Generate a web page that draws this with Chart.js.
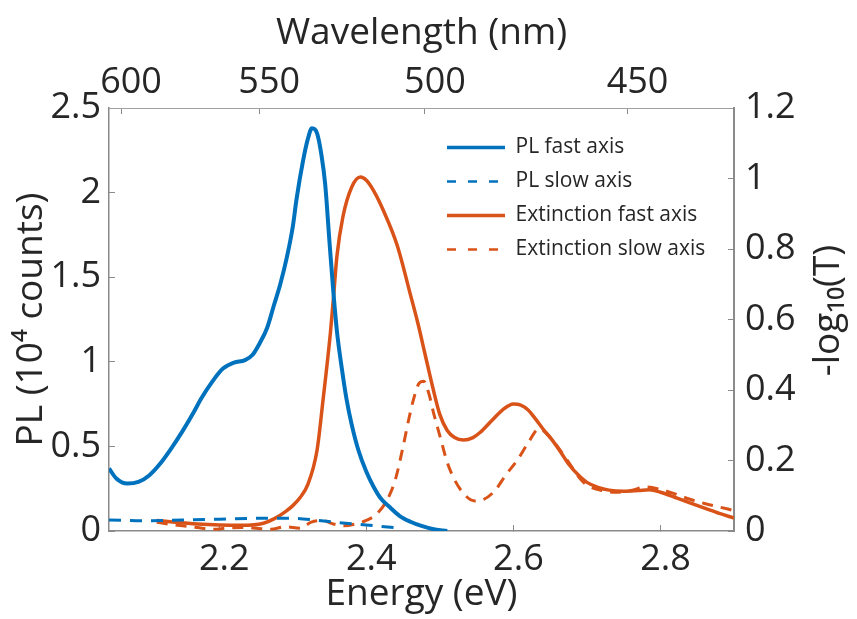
<!DOCTYPE html>
<html>
<head>
<meta charset="utf-8">
<script src="https://cdn.jsdelivr.net/npm/chart.js@4.4.0/dist/chart.umd.min.js"></script>
<style>
  body { margin: 0; background: #fff; }
  canvas { display: block; }
</style>
</head>
<body>
<canvas id="myChart" width="857" height="619"></canvas>
<script>
// tick labels
var energyTicks = [2.2, 2.4, 2.6, 2.8];
var wavelengthTicks = [600, 550, 500, 450];

// PL fast axis (10^4 counts)
var plFastE = [2.05, 2.06, 2.075, 2.09, 2.105, 2.12, 2.135, 2.15, 2.165, 2.175, 2.19, 2.205, 2.22, 2.235, 2.245, 2.255, 2.265, 2.274, 2.283, 2.292, 2.30, 2.305, 2.314, 2.32, 2.326, 2.333, 2.339, 2.344, 2.35, 2.355, 2.36, 2.367, 2.373, 2.38, 2.389, 2.40, 2.41, 2.42, 2.432, 2.445, 2.46, 2.475, 2.49, 2.51];
var plFastPL = [0.37, 0.31, 0.28, 0.29, 0.33, 0.40, 0.49, 0.59, 0.70, 0.78, 0.88, 0.96, 0.995, 1.01, 1.04, 1.11, 1.20, 1.33, 1.46, 1.62, 1.80, 1.96, 2.19, 2.31, 2.38, 2.35, 2.22, 2.05, 1.70, 1.42, 1.18, 0.95, 0.78, 0.63, 0.48, 0.35, 0.26, 0.19, 0.14, 0.09, 0.055, 0.03, 0.012, 0.0];

// PL slow axis
var plSlowE = [2.05, 2.10, 2.15, 2.20, 2.25, 2.30, 2.33, 2.36, 2.40, 2.44];
var plSlowPL = [0.065, 0.06, 0.065, 0.07, 0.075, 0.075, 0.065, 0.05, 0.035, 0.02];

// Extinction fast axis (-log10 T)
var extFastE = [2.115, 2.14, 2.17, 2.20, 2.23, 2.26, 2.275, 2.29, 2.30, 2.31, 2.32, 2.333, 2.341, 2.351, 2.355, 2.36, 2.368, 2.38, 2.392, 2.40, 2.41, 2.423, 2.442, 2.46, 2.47, 2.48, 2.49, 2.50, 2.51, 2.52, 2.532, 2.545, 2.555, 2.57, 2.585, 2.60, 2.61, 2.62, 2.63, 2.64, 2.652, 2.664, 2.675, 2.69, 2.70, 2.715, 2.73, 2.75, 2.77, 2.785, 2.80, 2.82, 2.84, 2.86, 2.88, 2.90];
var extFastOD = [0.03, 0.025, 0.02, 0.017, 0.016, 0.022, 0.035, 0.055, 0.072, 0.095, 0.13, 0.23, 0.37, 0.56, 0.655, 0.78, 0.89, 0.975, 1.004, 0.995, 0.965, 0.91, 0.81, 0.67, 0.59, 0.50, 0.41, 0.33, 0.285, 0.265, 0.258, 0.265, 0.28, 0.312, 0.343, 0.36, 0.357, 0.343, 0.318, 0.29, 0.26, 0.225, 0.19, 0.155, 0.138, 0.124, 0.116, 0.113, 0.115, 0.117, 0.11, 0.095, 0.08, 0.065, 0.05, 0.037];

// Extinction slow axis
var extSlowE = [2.115, 2.13, 2.15, 2.17, 2.19, 2.21, 2.23, 2.25, 2.27, 2.29, 2.31, 2.325, 2.34, 2.355, 2.37, 2.385, 2.40, 2.415, 2.43, 2.44, 2.45, 2.458, 2.465, 2.472, 2.478, 2.485, 2.492, 2.50, 2.51, 2.52, 2.535, 2.548, 2.56, 2.575, 2.59, 2.605, 2.62, 2.635, 2.65, 2.665, 2.68, 2.69, 2.70, 2.72, 2.74, 2.76, 2.78, 2.80, 2.82, 2.84, 2.86, 2.88, 2.90];
var extSlowOD = [0.025, 0.02, 0.015, 0.01, 0.005, 0.008, 0.01, 0.008, 0.005, 0.012, 0.008, 0.025, 0.03, 0.02, 0.015, 0.02, 0.03, 0.05, 0.095, 0.15, 0.24, 0.32, 0.38, 0.42, 0.425, 0.39, 0.33, 0.27, 0.195, 0.145, 0.10, 0.085, 0.09, 0.115, 0.16, 0.20, 0.25, 0.29, 0.265, 0.225, 0.18, 0.15, 0.13, 0.115, 0.11, 0.115, 0.125, 0.118, 0.105, 0.09, 0.078, 0.068, 0.058];

var BLUE = '#0072BD';
var ORANGE = '#D95319';
var TEXT = '#262626';
var AXIS = '#8a8a8a';
var FONT = "'Open Sans', sans-serif";

function toPoints(xs, ys) {
  var pts = [];
  for (var i = 0; i < xs.length; i++) {
    pts.push({ x: xs[i], y: ys[i] });
  }
  return pts;
}

// 1.0 -> "1", 0.5 -> "0.5"
function shortNum(v) {
  return String(Number(v.toFixed(1)));
}

Chart.defaults.font.family = FONT;
Chart.defaults.color = TEXT;

// MATLAB style: right label reads bottom to top
const rightTitle = {
  id: 'rightTitle',
  afterDraw: function (chart) {
    const ctx = chart.ctx;
    const area = chart.chartArea;
    ctx.save();
    ctx.translate(chart.scales.y2.right - 29, (area.top + area.bottom) / 2 - 9);
    ctx.rotate(-Math.PI / 2);
    ctx.font = '37px ' + FONT;
    ctx.fillStyle = TEXT;
    ctx.textAlign = 'center';
    ctx.textBaseline = 'middle';
    ctx.fillText('-log\u2081\u2080(T)', 0, 0);
    ctx.restore();
  }
};

// put the legend inside the plot, upper right
const legendInside = {
  id: 'legendInside',
  afterLayout: function (chart) {
    const lg = chart.legend;
    const area = chart.chartArea;
    const w = lg.right - lg.left, h = lg.bottom - lg.top;
    lg.left = area.left + 325;
    lg.top = area.top + 16;
    lg.right = lg.left + w;
    lg.bottom = lg.top + h;
  }
};

function tickGrid() {
  return { display: true, drawOnChartArea: false, drawTicks: true, tickLength: -6, color: AXIS, lineWidth: 1 };
}

const data = {
  datasets: [{
    label: 'PL fast axis',
    data: toPoints(plFastE, plFastPL),
    borderColor: BLUE,
    borderWidth: 4,
    yAxisID: 'y'
  }, {
    label: 'PL slow axis',
    data: toPoints(plSlowE, plSlowPL),
    borderColor: BLUE,
    borderWidth: 3,
    borderDash: [12, 9],
    yAxisID: 'y'
  }, {
    label: 'Extinction fast axis',
    data: toPoints(extFastE, extFastOD),
    borderColor: ORANGE,
    borderWidth: 3.5,
    yAxisID: 'y2'
  }, {
    label: 'Extinction slow axis',
    data: toPoints(extSlowE, extSlowOD),
    borderColor: ORANGE,
    borderWidth: 3,
    borderDash: [11, 8],
    yAxisID: 'y2'
  }]
};

const config = {
  type: 'line',
  data: data,
  plugins: [legendInside, rightTitle],
  options: {
    responsive: false,
    animation: false,
    devicePixelRatio: 1,
    layout: { padding: 0 },
    elements: {
      point: { radius: 0 },
      line: { cubicInterpolationMode: 'monotone', fill: false, backgroundColor: 'transparent' }
    },
    plugins: {
      tooltip: { enabled: false },
      legend: {
        position: 'chartArea',
        align: 'start',
        labels: {
          usePointStyle: true,
          pointStyle: 'line',
          pointStyleWidth: 58,
          boxHeight: 21,
          padding: 13,
          color: TEXT,
          font: { size: 21 },
          // legend lines take the dash and width of their dataset
          generateLabels: function (chart) {
            var items = Chart.defaults.plugins.legend.labels.generateLabels(chart);
            items.forEach(function (it) {
              var ds = chart.data.datasets[it.datasetIndex];
              it.lineDash = ds.borderDash ? [9, 12] : [];
              it.lineWidth = ds.borderDash ? 2.5 : 3.5;
              it.strokeStyle = ds.borderColor;
            });
            return items;
          }
        }
      }
    },
    scales: {
      x: {
        type: 'linear',
        position: 'bottom',
        min: 2.05,
        max: 2.9,
        afterBuildTicks: function (s) { s.ticks = energyTicks.map(function (v) { return { value: v }; }); },
        afterFit: function (s) { s.height = 88; },
        ticks: { font: { size: 36 }, color: TEXT, padding: 13, labelOffset: 5, maxRotation: 0, callback: function (v) { return v.toFixed(1); } },
        grid: tickGrid(),
        border: { color: AXIS, width: 1.5 },
        title: { display: true, text: 'Energy (eV)', color: TEXT, font: { size: 37 }, padding: { top: 0, bottom: 2 } }
      },
      x2: {
        type: 'linear',
        position: 'top',
        min: 2.05,
        max: 2.9,
        afterBuildTicks: function (s) { s.ticks = wavelengthTicks.map(function (w) { return { value: 1239.84 / w }; }); },
        afterFit: function (s) { s.height = 108; },
        ticks: { font: { size: 36 }, color: TEXT, padding: 10, labelOffset: 10, maxRotation: 0, callback: function (v, i) { return String(wavelengthTicks[i]); } },
        grid: tickGrid(),
        border: { color: '#a0a0a0', width: 1 },
        title: { display: true, text: 'Wavelength (nm)', color: TEXT, font: { size: 37 }, padding: { top: 11, bottom: 0 } }
      },
      y: {
        type: 'linear',
        position: 'left',
        min: 0,
        max: 2.5,
        afterFit: function (s) { s.width = 109; },
        ticks: { stepSize: 0.5, font: { size: 36 }, color: TEXT, padding: 14, callback: shortNum },
        grid: tickGrid(),
        border: { color: AXIS, width: 1.5 },
        title: { display: true, text: 'PL (10\u2074 counts)', color: TEXT, font: { size: 37 }, padding: { top: 9, bottom: 0 } }
      },
      y2: {
        type: 'linear',
        position: 'right',
        min: 0,
        max: 1.2,
        afterFit: function (s) { s.width = 123; },
        ticks: { stepSize: 0.2, font: { size: 36 }, color: TEXT, padding: 17, callback: shortNum },
        grid: tickGrid(),
        border: { color: AXIS, width: 2 }
      }
    }
  }
};

const myChart = new Chart(
  document.getElementById('myChart'),
  config
);
</script>
</body>
</html>
